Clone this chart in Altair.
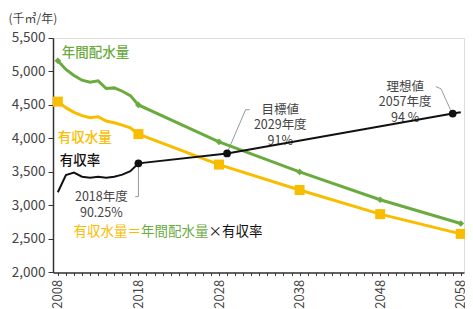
import altair as alt
import pandas as pd

FONT = "Noto Sans CJK JP"
GREEN = "#6aab3f"
YELLOW = "#f9bd00"
BLACK = "#111111"
GRAY = "#444444"

# ---- data ----
years = [2008, 2009, 2010, 2011, 2012, 2013, 2014, 2015, 2016, 2017, 2018,
         2028, 2038, 2048, 2058]
distributed = [5160, 5030, 4940, 4870, 4840, 4860, 4745, 4755, 4705, 4640, 4500,
               3950, 3500, 3085, 2730]           # 年間配水量 (千㎥/年)
revenue_water = [4550, 4460, 4390, 4340, 4310, 4325, 4260, 4235, 4200, 4160, 4065,
                 3610, 3230, 2870, 2575]          # 有収水量 (千㎥/年)
marker_years = [2008, 2018, 2028, 2038, 2048, 2058]

rate_years = [2008, 2009, 2010, 2011, 2012, 2013, 2014, 2015, 2016, 2017, 2018,
              2029, 2057, 2058]
rate = [88.07, 89.36, 89.55, 89.24, 89.17, 89.24, 89.17, 89.24, 89.40, 89.66, 90.25,
        91.0, 94.0, 94.1]                          # 有収率 (%)
key_years = [2018, 2029, 2057]
key_rates = [90.25, 91.0, 94.0]

y_ticks = [2000, 2500, 3000, 3500, 4000, 4500, 5000, 5500]
x_ticks = list(range(2008, 2059))

# annotation texts (anchored in data units)
series_labels = pd.DataFrame({
    "text": ["年間配水量", "有収水量", "有収率"],
    "x": [2008.5, 2008.0, 2008.25],
    "y": [5280, 4011, 3668],
    "c": [GREEN, YELLOW, BLACK],
})
notes = pd.DataFrame({
    "text": ["2018年度\n90.25%", "目標値\n2029年度\n91%", "理想値\n2057年度\n94 %"],
    "x": [2013.4, 2035.6, 2051.1],
    "y": [3123, 4429, 4773],
})
formula = pd.DataFrame({
    "text": ["有収水量＝", "年間配水量", "×有収率"],
    "x": [2009.95, 2018.32, 2026.69],
    "y": [2608, 2608, 2608],
    "c": [YELLOW, GREEN, BLACK],
})
leaders = pd.DataFrame({
    "g": [1, 1, 1, 2, 2, 2, 3, 3, 3],
    "o": [0, 1, 2, 0, 1, 2, 0, 1, 2],
    "x": [2018.0, 2018.0, 2017.6, 2029.07, 2031.3, 2031.8, 2056.72, 2055.54, 2054.9],
    "y": [3579, 3131, 3131, 3802, 4429, 4429, 4429, 4743, 4773],
})

df = pd.DataFrame({"year": years, "dist": distributed, "rev": revenue_water})
dfm = df[df["year"].isin(marker_years)]
dfr = pd.DataFrame({"year": rate_years, "rate": rate})
dfk = pd.DataFrame({"year": key_years, "rate": key_rates})

xscale = alt.Scale(domain=[2007.4, 2058.4], nice=False, zero=False)
yscale = alt.Scale(domain=[2000, 5500], nice=False, zero=False)
rscale = alt.Scale(domain=[82.03, 99.70], nice=False, zero=False)

xaxis = alt.Axis(values=x_ticks, labelExpr="datum.value % 10 == 8 ? '' + datum.value : ''",
                 labelAngle=-90, labelAlign="right", labelBaseline="middle",
                 tickSize=3, labelPadding=4, grid=False, title=None,
                 labelFontSize=13, labelFont=FONT, labelColor=GRAY,
                 domainColor="#333333", domainWidth=1.5, tickColor="#333333",
                 labelOverlap=False, labelFlush=False, labelBound=False)
yaxis = alt.Axis(values=y_ticks, format=",d", tickSize=5, labelPadding=3, grid=False,
                 labelFontSize=13.5, labelFont=FONT, labelColor=GRAY,
                 domainColor="#333333", domainWidth=1.5, tickColor="#333333",
                 labelOverlap=False, labelFlush=False,
                 title="(千㎥/年)", titleAngle=0, titleAlign="left", titleBaseline="middle",
                 titleX=-45, titleY=-19, titleFont=FONT, titleFontSize=12,
                 titleFontWeight="normal", titleColor=GRAY)


def X(field):
    return alt.X(field, scale=xscale, axis=xaxis)


def Y(field):
    return alt.Y(field, scale=yscale, axis=yaxis)


green_line = alt.Chart(df).mark_line(color=GREEN, strokeWidth=3).encode(
    x=X("year:Q"), y=Y("dist:Q"))
yellow_line = alt.Chart(df).mark_line(color=YELLOW, strokeWidth=3).encode(
    x=X("year:Q"), y=Y("rev:Q"))
green_pts = alt.Chart(dfm).mark_point(shape="diamond", filled=True, color=GREEN,
                                      size=45, opacity=1).encode(x=X("year:Q"), y=Y("dist:Q"))
yellow_pts = alt.Chart(dfm).mark_point(shape="square", filled=True, color=YELLOW,
                                       size=100, opacity=1).encode(x=X("year:Q"), y=Y("rev:Q"))
lead = alt.Chart(leaders).mark_line(color="#999999", strokeWidth=1).encode(
    x=X("x:Q"), y=Y("y:Q"), detail="g:N", order="o:Q")
lab = alt.Chart(series_labels).mark_text(font=FONT, fontSize=13.5, align="left",
                                         baseline="middle", fontWeight=500).encode(
    x=X("x:Q"), y=Y("y:Q"), text="text:N", color=alt.Color("c:N", scale=None))
note = alt.Chart(notes).mark_text(font=FONT, fontSize=12.5, align="center",
                                  baseline="middle", color=GRAY, lineBreak="\n",
                                  lineHeight=15.5).encode(
    x=X("x:Q"), y=Y("y:Q"), text="text:N")
form = alt.Chart(formula).mark_text(font=FONT, fontSize=13.5, align="left",
                                    baseline="middle").encode(
    x=X("x:Q"), y=Y("y:Q"), text="text:N", color=alt.Color("c:N", scale=None))

primary = alt.layer(lead, green_line, yellow_line, green_pts, yellow_pts, lab, note, form)

rate_line = alt.Chart(dfr).mark_line(color=BLACK, strokeWidth=2).encode(
    x=X("year:Q"), y=alt.Y("rate:Q", scale=rscale, axis=None))
rate_pts = alt.Chart(dfk).mark_point(shape="circle", filled=True, color=BLACK,
                                     size=60, opacity=1).encode(
    x=X("year:Q"), y=alt.Y("rate:Q", scale=rscale, axis=None))
secondary = alt.layer(rate_line, rate_pts)

chart = alt.layer(primary, secondary).resolve_scale(y="independent").properties(
    width=411, height=234.4,
    autosize=alt.AutoSizeParams(type="none"),
    padding={"left": 45, "top": 30, "right": 1, "bottom": 40},
).configure_view(stroke=None).configure_axis(labelOverlap=False).configure(
    background="white")

chart.save("out.html", embed_options={"renderer": "svg", "actions": False})
